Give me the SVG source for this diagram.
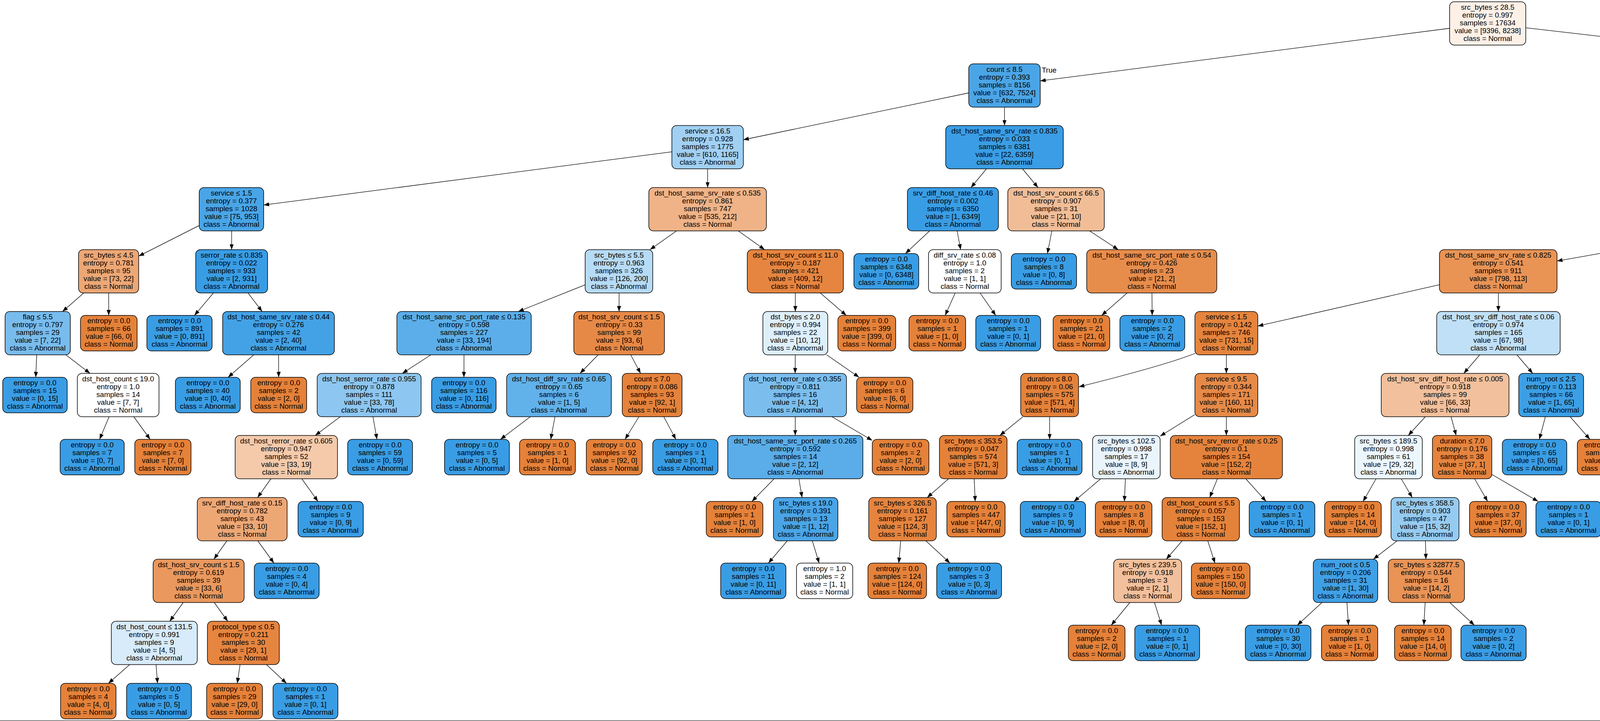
<svg xmlns="http://www.w3.org/2000/svg" width="6607" height="1847" viewBox="0 0 6607 1847">
<style>
text{font-family:"Liberation Sans",Arial,Helvetica,sans-serif;font-size:18.7px;text-anchor:middle;fill:#000}
.n rect{stroke:#000;stroke-width:1.5}
.e line,.e path{stroke:#000;stroke-width:1.3;fill:none;marker-end:url(#a)}
text.lbl{text-anchor:start}
text.lbr{text-anchor:end}
</style>
<defs>
<marker id="a" markerUnits="userSpaceOnUse" markerWidth="14" markerHeight="12" refX="14" refY="6" orient="auto"><path d="M0,0.8 L14,6 L0,11.2 z" fill="#000"/></marker>
</defs>
<rect x="0" y="0" width="6607" height="1847" fill="#fff"/>
<g id="frame" fill="none" stroke="#808080" stroke-width="2"><line x1="6606" y1="0" x2="6606" y2="1847"/><line x1="0" y1="1846" x2="6607" y2="1846"/></g>
<g id="edges" class="e">
<line x1="3711" y1="72.5" x2="2663" y2="207.2"/>
<line x1="3906" y1="71.2" x2="5098" y2="208.4"/>
<line x1="2480" y1="238" x2="1903" y2="358"/>
<line x1="2571.5" y1="274.5" x2="2571.5" y2="321.5"/>
<line x1="5190" y1="274.5" x2="5190" y2="321.5"/>
<line x1="5282" y1="235.7" x2="5975" y2="361.2"/>
<line x1="1720" y1="388.9" x2="675" y2="525.2"/>
<line x1="1811.5" y1="432.5" x2="1811.5" y2="480.5"/>
<line x1="2525.3" y1="432.5" x2="2485.7" y2="480.5"/>
<line x1="2617.7" y1="432.5" x2="2657.3" y2="480.5"/>
<line x1="5098" y1="409.6" x2="4833" y2="503.6"/>
<line x1="5282" y1="406.6" x2="5592" y2="506.1"/>
<line x1="6062" y1="432.5" x2="6062.3" y2="480.5"/>
<line x1="6147.6" y1="432.5" x2="6236.3" y2="490.5"/>
<line x1="510" y1="577.7" x2="355" y2="656.1"/>
<line x1="593" y1="591.5" x2="593" y2="639.5"/>
<line x1="1732" y1="591.5" x2="1664" y2="639.5"/>
<line x1="1890.1" y1="591.5" x2="1957.4" y2="639.5"/>
<line x1="2379.8" y1="591.5" x2="2317.9" y2="649.5"/>
<line x1="2450.2" y1="591.5" x2="2459.3" y2="639.5"/>
<line x1="2692.7" y1="591.5" x2="2681.4" y2="649.5"/>
<line x1="2789.3" y1="591.5" x2="2862.7" y2="639.5"/>
<line x1="4650" y1="552.1" x2="3986" y2="668.6"/>
<line x1="4741.2" y1="591.5" x2="4741.2" y2="639.5"/>
<line x1="5685" y1="591.5" x2="5685" y2="639.5"/>
<line x1="5751.3" y1="591.5" x2="5820.1" y2="649.5"/>
<line x1="6062.5" y1="591.5" x2="6062.5" y2="649.5"/>
<line x1="6147.4" y1="591.5" x2="6220.1" y2="639.5"/>
<line x1="214.5" y1="750.5" x2="160" y2="798"/>
<line x1="278.2" y1="750.5" x2="278.3" y2="808"/>
<line x1="546.3" y1="750.5" x2="497.8" y2="808"/>
<line x1="635" y1="750.5" x2="671" y2="798"/>
<line x1="1498" y1="729.6" x2="1326.8" y2="798"/>
<line x1="1584.8" y1="750.5" x2="1584.8" y2="798"/>
<line x1="2036" y1="750.5" x2="2036" y2="798"/>
<line x1="2100" y1="750.5" x2="2166.5" y2="808"/>
<line x1="2445.3" y1="750.5" x2="2419.7" y2="808"/>
<line x1="2508.9" y1="750.5" x2="2549.1" y2="808"/>
<line x1="2885.5" y1="750.5" x2="2820.2" y2="808"/>
<line x1="2949" y1="750.5" x2="2949.6" y2="808"/>
<line x1="3685" y1="729.3" x2="3220" y2="835.2"/>
<line x1="3835.8" y1="750.5" x2="3835.8" y2="798"/>
<line x1="4682.5" y1="750.5" x2="4632.5" y2="798"/>
<line x1="4790.9" y1="750.5" x2="4833.6" y2="798"/>
<line x1="5684.7" y1="750.5" x2="5684.8" y2="798"/>
<path d="M5766.7,745.7 Q5896,801.3 6042.7,835"/>
<line x1="6305" y1="750.5" x2="6305" y2="808"/>
<line x1="6368.5" y1="750.5" x2="6434.4" y2="808"/>
<line x1="94" y1="909" x2="91.5" y2="966.5"/>
<line x1="168.6" y1="909" x2="230.4" y2="956.5"/>
<line x1="649.6" y1="909" x2="583.9" y2="966.5"/>
<line x1="713.2" y1="909" x2="713.4" y2="966.5"/>
<line x1="1103" y1="909" x2="1030" y2="956.5"/>
<line x1="1187.8" y1="909" x2="1187.6" y2="966.5"/>
<line x1="1531.1" y1="909" x2="1484.9" y2="956.5"/>
<line x1="1614.6" y1="909" x2="1639.9" y2="956.5"/>
<line x1="2035.8" y1="909" x2="2035.6" y2="956.5"/>
<line x1="2116.2" y1="909" x2="2199.3" y2="966.5"/>
<path d="M3060,905 Q2983.3,935.7 2762,991"/>
<line x1="3139.5" y1="909" x2="3139.5" y2="956.5"/>
<line x1="3788.2" y1="909" x2="3747.3" y2="956.5"/>
<line x1="3883.3" y1="909" x2="3923.8" y2="956.5"/>
<line x1="4510.3" y1="909" x2="4444.2" y2="966.5"/>
<line x1="4574.2" y1="909" x2="4574.3" y2="956.5"/>
<line x1="4882" y1="909" x2="4880.5" y2="956.5"/>
<line x1="4963" y1="909" x2="5031" y2="956.5"/>
<line x1="5684.5" y1="909" x2="5684" y2="956.5"/>
<line x1="5764.1" y1="909" x2="5831.9" y2="956.5"/>
<line x1="6121" y1="909" x2="6121.8" y2="966.5"/>
<line x1="6197" y1="903.8" x2="6277.6" y2="956.5"/>
<line x1="279.3" y1="1067.5" x2="255" y2="1125.5"/>
<line x1="342.5" y1="1067.5" x2="384.3" y2="1125.5"/>
<line x1="871" y1="1067.5" x2="807" y2="1115.5"/>
<line x1="954.8" y1="1067.5" x2="965" y2="1125.5"/>
<line x1="1357.7" y1="1067.5" x2="1281.1" y2="1125.5"/>
<line x1="1420.7" y1="1067.5" x2="1409.9" y2="1125.5"/>
<line x1="1635.6" y1="1067.5" x2="1600.2" y2="1125.5"/>
<line x1="1699.2" y1="1067.5" x2="1730.2" y2="1125.5"/>
<line x1="2035.8" y1="1067.5" x2="2035.8" y2="1115.5"/>
<line x1="2129.7" y1="1067.5" x2="2233" y2="1128.3"/>
<line x1="2618.8" y1="1067.5" x2="2559.7" y2="1115.5"/>
<line x1="2687" y1="1067.5" x2="2687" y2="1125.5"/>
<line x1="3059" y1="1062" x2="2970" y2="1117.3"/>
<line x1="3139.5" y1="1067.5" x2="3139.5" y2="1115.5"/>
<line x1="3648.9" y1="1067.5" x2="3605.1" y2="1115.5"/>
<line x1="3714.7" y1="1067.5" x2="3727.8" y2="1115.5"/>
<line x1="3956.2" y1="1067.5" x2="3940.7" y2="1125.5"/>
<line x1="4019.5" y1="1067.5" x2="4070.2" y2="1125.5"/>
<line x1="4498" y1="1064.3" x2="4423.1" y2="1115.5"/>
<line x1="4574.3" y1="1067.5" x2="4574.2" y2="1125.5"/>
<line x1="4836.1" y1="1067.5" x2="4791.2" y2="1125.5"/>
<line x1="4899.1" y1="1067.5" x2="4920.1" y2="1125.5"/>
<line x1="5110.3" y1="1067.5" x2="5110.2" y2="1125.5"/>
<line x1="5189.9" y1="1067.5" x2="5258.6" y2="1115.5"/>
<line x1="5645.6" y1="1067.5" x2="5606" y2="1125.5"/>
<line x1="5709.2" y1="1067.5" x2="5736" y2="1125.5"/>
<line x1="5916.8" y1="1067.5" x2="5922.8" y2="1125.5"/>
<line x1="5980.1" y1="1067.5" x2="6052.4" y2="1125.5"/>
<line x1="6351.7" y1="1067.5" x2="6342.3" y2="1115.5"/>
<line x1="6420.1" y1="1067.5" x2="6480.3" y2="1125.5"/>
<line x1="693.6" y1="1226.5" x2="659.4" y2="1274.5"/>
<line x1="772.6" y1="1226.5" x2="814" y2="1284.5"/>
<line x1="1981.7" y1="1226.5" x2="1925" y2="1284.5"/>
<line x1="2045.2" y1="1226.5" x2="2053.3" y2="1274.5"/>
<line x1="2428.3" y1="1226.5" x2="2373.7" y2="1274.5"/>
<line x1="2493.9" y1="1226.5" x2="2496.5" y2="1284.5"/>
<line x1="2817.9" y1="1226.5" x2="2749.3" y2="1284.5"/>
<line x1="2881" y1="1226.5" x2="2878.5" y2="1284.5"/>
<line x1="3116.6" y1="1226.5" x2="3096.9" y2="1274.5"/>
<line x1="3189.2" y1="1226.5" x2="3241.2" y2="1284.5"/>
<line x1="3522.7" y1="1226.5" x2="3489.5" y2="1284.5"/>
<line x1="3587.1" y1="1226.5" x2="3615.4" y2="1274.5"/>
<line x1="3774.9" y1="1226.5" x2="3808.3" y2="1284.5"/>
<line x1="3819" y1="1215.3" x2="3937.6" y2="1284.5"/>
<line x1="4319.1" y1="1226.5" x2="4295.2" y2="1284.5"/>
<line x1="4382.1" y1="1226.5" x2="4424.1" y2="1284.5"/>
<line x1="5301.9" y1="1226.5" x2="5264.1" y2="1284.5"/>
<line x1="5374.5" y1="1226.5" x2="5406" y2="1274.5"/>
<line x1="6299.9" y1="1226.5" x2="6266.9" y2="1284.5"/>
<line x1="6363.1" y1="1226.5" x2="6396.1" y2="1284.5"/>
<line x1="580.9" y1="1385.5" x2="547.6" y2="1432.5"/>
<line x1="660" y1="1385.5" x2="701.2" y2="1442.5"/>
<line x1="2015.5" y1="1385.5" x2="1967.1" y2="1442.5"/>
<line x1="2079.5" y1="1385.5" x2="2097" y2="1442.5"/>
<line x1="2305.8" y1="1385.5" x2="2300.9" y2="1442.5"/>
<line x1="2370.3" y1="1385.5" x2="2431.9" y2="1442.5"/>
<line x1="3026.3" y1="1385.5" x2="2985.7" y2="1432.5"/>
<line x1="3091.9" y1="1385.5" x2="3110.3" y2="1442.5"/>
<line x1="3576.6" y1="1385.5" x2="3515.9" y2="1432.5"/>
<line x1="3649.2" y1="1385.5" x2="3650.3" y2="1432.5"/>
<line x1="5410.6" y1="1385.5" x2="5377.7" y2="1442.5"/>
<line x1="5474.3" y1="1385.5" x2="5506.9" y2="1442.5"/>
<line x1="468.9" y1="1543.5" x2="434.6" y2="1591.5"/>
<line x1="548.5" y1="1543.5" x2="583" y2="1591.5"/>
<line x1="2892.5" y1="1543.5" x2="2844.8" y2="1601.5"/>
<line x1="2955.5" y1="1543.5" x2="2973.7" y2="1601.5"/>
<line x1="3384.3" y1="1543.5" x2="3321.3" y2="1601.5"/>
<line x1="3448.2" y1="1543.5" x2="3452" y2="1601.5"/>
<line x1="3648.4" y1="1543.5" x2="3645.1" y2="1601.5"/>
<line x1="3711.5" y1="1543.5" x2="3774.3" y2="1601.5"/>
<line x1="332" y1="1702.5" x2="277.6" y2="1750.5"/>
<line x1="399.5" y1="1702.5" x2="403.3" y2="1750.5"/>
<line x1="614.6" y1="1702.5" x2="607.4" y2="1750.5"/>
<line x1="682.2" y1="1702.5" x2="733.4" y2="1750.5"/>
</g>
<g id="edge-labels">
<text class="lbl" x="2667" y="186">True</text>
<text class="lbr" x="5096" y="187">False</text>
</g>
<g id="n0" class="n"><rect x="3711" y="4.5" width="195" height="111" rx="12" fill="#fcf0e7"/><text x="3808.5" y="24.5">src_bytes ≤ 28.5<tspan x="3808.5" dy="20">entropy = 0.997</tspan><tspan x="3808.5" dy="20">samples = 17634</tspan><tspan x="3808.5" dy="20">value = [9396, 8238]</tspan><tspan x="3808.5" dy="20">class = Normal</tspan></text></g>
<g id="n1" class="n"><rect x="2480" y="163.5" width="183" height="111" rx="12" fill="#4aa5e7"/><text x="2571.5" y="183.5">count ≤ 8.5<tspan x="2571.5" dy="20">entropy = 0.393</tspan><tspan x="2571.5" dy="20">samples = 8156</tspan><tspan x="2571.5" dy="20">value = [632, 7524]</tspan><tspan x="2571.5" dy="20">class = Abnormal</tspan></text></g>
<g id="n2" class="n"><rect x="5098" y="163.5" width="184" height="111" rx="12" fill="#e78b49"/><text x="5190" y="183.5">protocol_type ≤ 1.5<tspan x="5190" dy="20">entropy = 0.386</tspan><tspan x="5190" dy="20">samples = 9478</tspan><tspan x="5190" dy="20">value = [8764, 714]</tspan><tspan x="5190" dy="20">class = Normal</tspan></text></g>
<g id="n3" class="n"><rect x="1720" y="321.5" width="183" height="111" rx="12" fill="#a1d0f3"/><text x="1811.5" y="341.5">service ≤ 16.5<tspan x="1811.5" dy="20">entropy = 0.928</tspan><tspan x="1811.5" dy="20">samples = 1775</tspan><tspan x="1811.5" dy="20">value = [610, 1165]</tspan><tspan x="1811.5" dy="20">class = Abnormal</tspan></text></g>
<g id="n4" class="n"><rect x="2421" y="321.5" width="301" height="111" rx="12" fill="#3a9de5"/><text x="2571.5" y="341.5">dst_host_same_srv_rate ≤ 0.835<tspan x="2571.5" dy="20">entropy = 0.033</tspan><tspan x="2571.5" dy="20">samples = 6381</tspan><tspan x="2571.5" dy="20">value = [22, 6359]</tspan><tspan x="2571.5" dy="20">class = Abnormal</tspan></text></g>
<g id="n5" class="n"><rect x="5098" y="321.5" width="184" height="111" rx="12" fill="#e68640"/><text x="5190" y="341.5">hot ≤ 0.5<tspan x="5190" dy="20">entropy = 0.219</tspan><tspan x="5190" dy="20">samples = 8883</tspan><tspan x="5190" dy="20">value = [8572, 311]</tspan><tspan x="5190" dy="20">class = Normal</tspan></text></g>
<g id="n6" class="n"><rect x="5975" y="321.5" width="174" height="111" rx="12" fill="#97ccf1"/><text x="6062" y="341.5">src_bytes ≤ 351.5<tspan x="6062" dy="20">entropy = 0.907</tspan><tspan x="6062" dy="20">samples = 595</tspan><tspan x="6062" dy="20">value = [192, 403]</tspan><tspan x="6062" dy="20">class = Abnormal</tspan></text></g>
<g id="n7" class="n"><rect x="510" y="480.5" width="165" height="111" rx="12" fill="#49a5e7"/><text x="592.5" y="500.5">service ≤ 1.5<tspan x="592.5" dy="20">entropy = 0.377</tspan><tspan x="592.5" dy="20">samples = 1028</tspan><tspan x="592.5" dy="20">value = [75, 953]</tspan><tspan x="592.5" dy="20">class = Abnormal</tspan></text></g>
<g id="n8" class="n"><rect x="1661" y="480.5" width="301" height="111" rx="12" fill="#efb387"/><text x="1811.5" y="500.5">dst_host_same_srv_rate ≤ 0.535<tspan x="1811.5" dy="20">entropy = 0.861</tspan><tspan x="1811.5" dy="20">samples = 747</tspan><tspan x="1811.5" dy="20">value = [535, 212]</tspan><tspan x="1811.5" dy="20">class = Normal</tspan></text></g>
<g id="n9" class="n"><rect x="2323" y="480.5" width="233" height="111" rx="12" fill="#399de5"/><text x="2439.5" y="500.5">srv_diff_host_rate ≤ 0.46<tspan x="2439.5" dy="20">entropy = 0.002</tspan><tspan x="2439.5" dy="20">samples = 6350</tspan><tspan x="2439.5" dy="20">value = [1, 6349]</tspan><tspan x="2439.5" dy="20">class = Abnormal</tspan></text></g>
<g id="n10" class="n"><rect x="2580" y="480.5" width="247" height="111" rx="12" fill="#f1bd97"/><text x="2703.5" y="500.5">dst_host_srv_count ≤ 66.5<tspan x="2703.5" dy="20">entropy = 0.907</tspan><tspan x="2703.5" dy="20">samples = 31</tspan><tspan x="2703.5" dy="20">value = [21, 10]</tspan><tspan x="2703.5" dy="20">class = Normal</tspan></text></g>
<g id="n11" class="n"><rect x="4650" y="480.5" width="183" height="111" rx="12" fill="#e5833c"/><text x="4741.5" y="500.5">dst_bytes ≤ 2.0<tspan x="4741.5" dy="20">entropy = 0.108</tspan><tspan x="4741.5" dy="20">samples = 8542</tspan><tspan x="4741.5" dy="20">value = [8420, 122]</tspan><tspan x="4741.5" dy="20">class = Normal</tspan></text></g>
<g id="n12" class="n"><rect x="5592" y="480.5" width="186" height="111" rx="12" fill="#d8ecfa"/><text x="5685" y="500.5">src_bytes ≤ 6052.0<tspan x="5685" dy="20">entropy = 0.991</tspan><tspan x="5685" dy="20">samples = 341</tspan><tspan x="5685" dy="20">value = [152, 189]</tspan><tspan x="5685" dy="20">class = Abnormal</tspan></text></g>
<g id="n13" class="n"><rect x="5928" y="480.5" width="269" height="111" rx="12" fill="#e5823a"/><text x="6062.5" y="500.5">dst_host_diff_srv_rate ≤ 0.33<tspan x="6062.5" dy="20">entropy = 0.047</tspan><tspan x="6062.5" dy="20">samples = 193</tspan><tspan x="6062.5" dy="20">value = [192, 1]</tspan><tspan x="6062.5" dy="20">class = Normal</tspan></text></g>
<g id="n14" class="n"><rect x="6223" y="490.5" width="167" height="91" rx="12" fill="#399de5"/><text x="6306.5" y="510.8">entropy = 0.0<tspan x="6306.5" dy="20">samples = 402</tspan><tspan x="6306.5" dy="20">value = [0, 402]</tspan><tspan x="6306.5" dy="20">class = Abnormal</tspan></text></g>
<g id="n15" class="n"><rect x="201" y="639.5" width="154" height="111" rx="12" fill="#eda775"/><text x="278" y="659.5">src_bytes ≤ 4.5<tspan x="278" dy="20">entropy = 0.781</tspan><tspan x="278" dy="20">samples = 95</tspan><tspan x="278" dy="20">value = [73, 22]</tspan><tspan x="278" dy="20">class = Normal</tspan></text></g>
<g id="n16" class="n"><rect x="501" y="639.5" width="184" height="111" rx="12" fill="#399de5"/><text x="593" y="659.5">serror_rate ≤ 0.835<tspan x="593" dy="20">entropy = 0.022</tspan><tspan x="593" dy="20">samples = 933</tspan><tspan x="593" dy="20">value = [2, 931]</tspan><tspan x="593" dy="20">class = Abnormal</tspan></text></g>
<g id="n17" class="n"><rect x="1498" y="639.5" width="173" height="111" rx="12" fill="#b6dbf5"/><text x="1584.5" y="659.5">src_bytes ≤ 5.5<tspan x="1584.5" dy="20">entropy = 0.963</tspan><tspan x="1584.5" dy="20">samples = 326</tspan><tspan x="1584.5" dy="20">value = [126, 200]</tspan><tspan x="1584.5" dy="20">class = Abnormal</tspan></text></g>
<g id="n18" class="n"><rect x="1913" y="639.5" width="246" height="111" rx="12" fill="#e6853f"/><text x="2036" y="659.5">dst_host_srv_count ≤ 11.0<tspan x="2036" dy="20">entropy = 0.187</tspan><tspan x="2036" dy="20">samples = 421</tspan><tspan x="2036" dy="20">value = [409, 12]</tspan><tspan x="2036" dy="20">class = Normal</tspan></text></g>
<g id="n19" class="n"><rect x="2186" y="649.5" width="166" height="91" rx="12" fill="#399de5"/><text x="2269" y="669.8">entropy = 0.0<tspan x="2269" dy="20">samples = 6348</tspan><tspan x="2269" dy="20">value = [0, 6348]</tspan><tspan x="2269" dy="20">class = Abnormal</tspan></text></g>
<g id="n20" class="n"><rect x="2377" y="639.5" width="186" height="111" rx="12" fill="#ffffff"/><text x="2470" y="659.5">diff_srv_rate ≤ 0.08<tspan x="2470" dy="20">entropy = 1.0</tspan><tspan x="2470" dy="20">samples = 2</tspan><tspan x="2470" dy="20">value = [1, 1]</tspan><tspan x="2470" dy="20">class = Normal</tspan></text></g>
<g id="n21" class="n"><rect x="2589" y="649.5" width="167" height="91" rx="12" fill="#399de5"/><text x="2672.5" y="669.8">entropy = 0.0<tspan x="2672.5" dy="20">samples = 8</tspan><tspan x="2672.5" dy="20">value = [0, 8]</tspan><tspan x="2672.5" dy="20">class = Abnormal</tspan></text></g>
<g id="n22" class="n"><rect x="2782" y="639.5" width="333" height="111" rx="12" fill="#e78d4c"/><text x="2948.5" y="659.5">dst_host_same_src_port_rate ≤ 0.54<tspan x="2948.5" dy="20">entropy = 0.426</tspan><tspan x="2948.5" dy="20">samples = 23</tspan><tspan x="2948.5" dy="20">value = [21, 2]</tspan><tspan x="2948.5" dy="20">class = Normal</tspan></text></g>
<g id="n23" class="n"><rect x="3685" y="639.5" width="301" height="111" rx="12" fill="#e99355"/><text x="3835.5" y="659.5">dst_host_same_srv_rate ≤ 0.825<tspan x="3835.5" dy="20">entropy = 0.541</tspan><tspan x="3835.5" dy="20">samples = 911</tspan><tspan x="3835.5" dy="20">value = [798, 113]</tspan><tspan x="3835.5" dy="20">class = Normal</tspan></text></g>
<g id="n24" class="n"><rect x="4610" y="639.5" width="262" height="111" rx="12" fill="#e58139"/><text x="4741" y="659.5">dst_host_rerror_rate ≤ 0.025<tspan x="4741" dy="20">entropy = 0.013</tspan><tspan x="4741" dy="20">samples = 7631</tspan><tspan x="4741" dy="20">value = [7622, 9]</tspan><tspan x="4741" dy="20">class = Normal</tspan></text></g>
<g id="n25" class="n"><rect x="5604" y="639.5" width="161" height="111" rx="12" fill="#eeab7b"/><text x="5684.5" y="659.5">duration ≤ 4.5<tspan x="5684.5" dy="20">entropy = 0.813</tspan><tspan x="5684.5" dy="20">samples = 203</tspan><tspan x="5684.5" dy="20">value = [152, 51]</tspan><tspan x="5684.5" dy="20">class = Normal</tspan></text></g>
<g id="n26" class="n"><rect x="5791" y="649.5" width="167" height="91" rx="12" fill="#399de5"/><text x="5874.5" y="669.8">entropy = 0.0<tspan x="5874.5" dy="20">samples = 138</tspan><tspan x="5874.5" dy="20">value = [0, 138]</tspan><tspan x="5874.5" dy="20">class = Abnormal</tspan></text></g>
<g id="n27" class="n"><rect x="5988" y="649.5" width="149" height="91" rx="12" fill="#e58139"/><text x="6062.5" y="669.8">entropy = 0.0<tspan x="6062.5" dy="20">samples = 190</tspan><tspan x="6062.5" dy="20">value = [190, 0]</tspan><tspan x="6062.5" dy="20">class = Normal</tspan></text></g>
<g id="n28" class="n"><rect x="6170" y="639.5" width="270" height="111" rx="12" fill="#f2c09c"/><text x="6305" y="659.5">dst_host_diff_srv_rate ≤ 0.72<tspan x="6305" dy="20">entropy = 0.918</tspan><tspan x="6305" dy="20">samples = 3</tspan><tspan x="6305" dy="20">value = [2, 1]</tspan><tspan x="6305" dy="20">class = Normal</tspan></text></g>
<g id="n29" class="n"><rect x="13" y="798" width="167" height="111" rx="12" fill="#78bced"/><text x="96.5" y="818">flag ≤ 5.5<tspan x="96.5" dy="20">entropy = 0.797</tspan><tspan x="96.5" dy="20">samples = 29</tspan><tspan x="96.5" dy="20">value = [7, 22]</tspan><tspan x="96.5" dy="20">class = Abnormal</tspan></text></g>
<g id="n30" class="n"><rect x="206" y="808" width="145" height="91" rx="12" fill="#e58139"/><text x="278.5" y="828.3">entropy = 0.0<tspan x="278.5" dy="20">samples = 66</tspan><tspan x="278.5" dy="20">value = [66, 0]</tspan><tspan x="278.5" dy="20">class = Normal</tspan></text></g>
<g id="n31" class="n"><rect x="376" y="808" width="167" height="91" rx="12" fill="#399de5"/><text x="459.5" y="828.3">entropy = 0.0<tspan x="459.5" dy="20">samples = 891</tspan><tspan x="459.5" dy="20">value = [0, 891]</tspan><tspan x="459.5" dy="20">class = Abnormal</tspan></text></g>
<g id="n32" class="n"><rect x="570" y="798" width="286" height="111" rx="12" fill="#43a2e6"/><text x="713" y="818">dst_host_same_srv_rate ≤ 0.44<tspan x="713" dy="20">entropy = 0.276</tspan><tspan x="713" dy="20">samples = 42</tspan><tspan x="713" dy="20">value = [2, 40]</tspan><tspan x="713" dy="20">class = Abnormal</tspan></text></g>
<g id="n33" class="n"><rect x="1016" y="798" width="344" height="111" rx="12" fill="#5baee9"/><text x="1188" y="818">dst_host_same_src_port_rate ≤ 0.135<tspan x="1188" dy="20">entropy = 0.598</tspan><tspan x="1188" dy="20">samples = 227</tspan><tspan x="1188" dy="20">value = [33, 194]</tspan><tspan x="1188" dy="20">class = Abnormal</tspan></text></g>
<g id="n34" class="n"><rect x="1469" y="798" width="232" height="111" rx="12" fill="#e78946"/><text x="1585" y="818">dst_host_srv_count ≤ 1.5<tspan x="1585" dy="20">entropy = 0.33</tspan><tspan x="1585" dy="20">samples = 99</tspan><tspan x="1585" dy="20">value = [93, 6]</tspan><tspan x="1585" dy="20">class = Normal</tspan></text></g>
<g id="n35" class="n"><rect x="1953" y="798" width="166" height="111" rx="12" fill="#deeffb"/><text x="2036" y="818">dst_bytes ≤ 2.0<tspan x="2036" dy="20">entropy = 0.994</tspan><tspan x="2036" dy="20">samples = 22</tspan><tspan x="2036" dy="20">value = [10, 12]</tspan><tspan x="2036" dy="20">class = Abnormal</tspan></text></g>
<g id="n36" class="n"><rect x="2145" y="808" width="148" height="91" rx="12" fill="#e58139"/><text x="2219" y="828.3">entropy = 0.0<tspan x="2219" dy="20">samples = 399</tspan><tspan x="2219" dy="20">value = [399, 0]</tspan><tspan x="2219" dy="20">class = Normal</tspan></text></g>
<g id="n37" class="n"><rect x="2327" y="808" width="145" height="91" rx="12" fill="#e58139"/><text x="2399.5" y="828.3">entropy = 0.0<tspan x="2399.5" dy="20">samples = 1</tspan><tspan x="2399.5" dy="20">value = [1, 0]</tspan><tspan x="2399.5" dy="20">class = Normal</tspan></text></g>
<g id="n38" class="n"><rect x="2498" y="808" width="166" height="91" rx="12" fill="#399de5"/><text x="2581" y="828.3">entropy = 0.0<tspan x="2581" dy="20">samples = 1</tspan><tspan x="2581" dy="20">value = [0, 1]</tspan><tspan x="2581" dy="20">class = Abnormal</tspan></text></g>
<g id="n39" class="n"><rect x="2696" y="808" width="145" height="91" rx="12" fill="#e58139"/><text x="2768.5" y="828.3">entropy = 0.0<tspan x="2768.5" dy="20">samples = 21</tspan><tspan x="2768.5" dy="20">value = [21, 0]</tspan><tspan x="2768.5" dy="20">class = Normal</tspan></text></g>
<g id="n40" class="n"><rect x="2867" y="808" width="166" height="91" rx="12" fill="#399de5"/><text x="2950" y="828.3">entropy = 0.0<tspan x="2950" dy="20">samples = 2</tspan><tspan x="2950" dy="20">value = [0, 2]</tspan><tspan x="2950" dy="20">class = Abnormal</tspan></text></g>
<g id="n41" class="n"><rect x="3059" y="798" width="161" height="111" rx="12" fill="#e6843d"/><text x="3139.5" y="818">service ≤ 1.5<tspan x="3139.5" dy="20">entropy = 0.142</tspan><tspan x="3139.5" dy="20">samples = 746</tspan><tspan x="3139.5" dy="20">value = [731, 15]</tspan><tspan x="3139.5" dy="20">class = Normal</tspan></text></g>
<g id="n42" class="n"><rect x="3678" y="798" width="316" height="111" rx="12" fill="#c0e0f7"/><text x="3836" y="818">dst_host_srv_diff_host_rate ≤ 0.06<tspan x="3836" dy="20">entropy = 0.974</tspan><tspan x="3836" dy="20">samples = 165</tspan><tspan x="3836" dy="20">value = [67, 98]</tspan><tspan x="3836" dy="20">class = Abnormal</tspan></text></g>
<g id="n43" class="n"><rect x="4433" y="798" width="282" height="111" rx="12" fill="#e58139"/><text x="4574" y="818">dst_host_srv_serror_rate ≤ 0.3<tspan x="4574" dy="20">entropy = 0.005</tspan><tspan x="4574" dy="20">samples = 7367</tspan><tspan x="4574" dy="20">value = [7364, 3]</tspan><tspan x="4574" dy="20">class = Normal</tspan></text></g>
<g id="n44" class="n"><rect x="4767" y="798" width="233" height="111" rx="12" fill="#e6843e"/><text x="4883.5" y="818">dst_host_srv_count ≤ 1.5<tspan x="4883.5" dy="20">entropy = 0.156</tspan><tspan x="4883.5" dy="20">samples = 264</tspan><tspan x="4883.5" dy="20">value = [258, 6]</tspan><tspan x="4883.5" dy="20">class = Normal</tspan></text></g>
<g id="n45" class="n"><rect x="5557" y="798" width="256" height="111" rx="12" fill="#dbedfa"/><text x="5685" y="818">dst_host_srv_count ≤ 152.0<tspan x="5685" dy="20">entropy = 0.993</tspan><tspan x="5685" dy="20">samples = 80</tspan><tspan x="5685" dy="20">value = [36, 44]</tspan><tspan x="5685" dy="20">class = Abnormal</tspan></text></g>
<g id="n46" class="n"><rect x="6043" y="798" width="154" height="111" rx="12" fill="#e78945"/><text x="6120" y="818">duration ≤ 97.5<tspan x="6120" dy="20">entropy = 0.315</tspan><tspan x="6120" dy="20">samples = 123</tspan><tspan x="6120" dy="20">value = [116, 7]</tspan><tspan x="6120" dy="20">class = Normal</tspan></text></g>
<g id="n47" class="n"><rect x="6222" y="808" width="166" height="91" rx="12" fill="#399de5"/><text x="6305" y="828.3">entropy = 0.0<tspan x="6305" dy="20">samples = 1</tspan><tspan x="6305" dy="20">value = [0, 1]</tspan><tspan x="6305" dy="20">class = Abnormal</tspan></text></g>
<g id="n48" class="n"><rect x="6415" y="808" width="143" height="91" rx="12" fill="#e58139"/><text x="6486.5" y="828.3">entropy = 0.0<tspan x="6486.5" dy="20">samples = 2</tspan><tspan x="6486.5" dy="20">value = [2, 0]</tspan><tspan x="6486.5" dy="20">class = Normal</tspan></text></g>
<g id="n49" class="n"><rect x="7" y="966.5" width="165" height="91" rx="12" fill="#399de5"/><text x="89.5" y="986.8">entropy = 0.0<tspan x="89.5" dy="20">samples = 15</tspan><tspan x="89.5" dy="20">value = [0, 15]</tspan><tspan x="89.5" dy="20">class = Abnormal</tspan></text></g>
<g id="n50" class="n"><rect x="198" y="956.5" width="209" height="111" rx="12" fill="#ffffff"/><text x="302.5" y="976.5">dst_host_count ≤ 19.0<tspan x="302.5" dy="20">entropy = 1.0</tspan><tspan x="302.5" dy="20">samples = 14</tspan><tspan x="302.5" dy="20">value = [7, 7]</tspan><tspan x="302.5" dy="20">class = Normal</tspan></text></g>
<g id="n51" class="n"><rect x="449" y="966.5" width="166" height="91" rx="12" fill="#399de5"/><text x="532" y="986.8">entropy = 0.0<tspan x="532" dy="20">samples = 40</tspan><tspan x="532" dy="20">value = [0, 40]</tspan><tspan x="532" dy="20">class = Abnormal</tspan></text></g>
<g id="n52" class="n"><rect x="642" y="966.5" width="143" height="91" rx="12" fill="#e58139"/><text x="713.5" y="986.8">entropy = 0.0<tspan x="713.5" dy="20">samples = 2</tspan><tspan x="713.5" dy="20">value = [2, 0]</tspan><tspan x="713.5" dy="20">class = Normal</tspan></text></g>
<g id="n53" class="n"><rect x="812" y="956.5" width="266" height="111" rx="12" fill="#8dc6f0"/><text x="945" y="976.5">dst_host_serror_rate ≤ 0.955<tspan x="945" dy="20">entropy = 0.878</tspan><tspan x="945" dy="20">samples = 111</tspan><tspan x="945" dy="20">value = [33, 78]</tspan><tspan x="945" dy="20">class = Abnormal</tspan></text></g>
<g id="n54" class="n"><rect x="1105" y="966.5" width="165" height="91" rx="12" fill="#399de5"/><text x="1187.5" y="986.8">entropy = 0.0<tspan x="1187.5" dy="20">samples = 116</tspan><tspan x="1187.5" dy="20">value = [0, 116]</tspan><tspan x="1187.5" dy="20">class = Abnormal</tspan></text></g>
<g id="n55" class="n"><rect x="1297" y="956.5" width="268" height="111" rx="12" fill="#61b1ea"/><text x="1431" y="976.5">dst_host_diff_srv_rate ≤ 0.65<tspan x="1431" dy="20">entropy = 0.65</tspan><tspan x="1431" dy="20">samples = 6</tspan><tspan x="1431" dy="20">value = [1, 5]</tspan><tspan x="1431" dy="20">class = Abnormal</tspan></text></g>
<g id="n56" class="n"><rect x="1593" y="956.5" width="153" height="111" rx="12" fill="#e5823b"/><text x="1669.5" y="976.5">count ≤ 7.0<tspan x="1669.5" dy="20">entropy = 0.086</tspan><tspan x="1669.5" dy="20">samples = 93</tspan><tspan x="1669.5" dy="20">value = [92, 1]</tspan><tspan x="1669.5" dy="20">class = Normal</tspan></text></g>
<g id="n57" class="n"><rect x="1904" y="956.5" width="263" height="111" rx="12" fill="#7bbeee"/><text x="2035.5" y="976.5">dst_host_rerror_rate ≤ 0.355<tspan x="2035.5" dy="20">entropy = 0.811</tspan><tspan x="2035.5" dy="20">samples = 16</tspan><tspan x="2035.5" dy="20">value = [4, 12]</tspan><tspan x="2035.5" dy="20">class = Abnormal</tspan></text></g>
<g id="n58" class="n"><rect x="2193" y="966.5" width="144" height="91" rx="12" fill="#e58139"/><text x="2265" y="986.8">entropy = 0.0<tspan x="2265" dy="20">samples = 6</tspan><tspan x="2265" dy="20">value = [6, 0]</tspan><tspan x="2265" dy="20">class = Normal</tspan></text></g>
<g id="n59" class="n"><rect x="2613" y="956.5" width="148" height="111" rx="12" fill="#e5823a"/><text x="2687" y="976.5">duration ≤ 8.0<tspan x="2687" dy="20">entropy = 0.06</tspan><tspan x="2687" dy="20">samples = 575</tspan><tspan x="2687" dy="20">value = [571, 4]</tspan><tspan x="2687" dy="20">class = Normal</tspan></text></g>
<g id="n60" class="n"><rect x="3059" y="956.5" width="161" height="111" rx="12" fill="#e78a47"/><text x="3139.5" y="976.5">service ≤ 9.5<tspan x="3139.5" dy="20">entropy = 0.344</tspan><tspan x="3139.5" dy="20">samples = 171</tspan><tspan x="3139.5" dy="20">value = [160, 11]</tspan><tspan x="3139.5" dy="20">class = Normal</tspan></text></g>
<g id="n61" class="n"><rect x="3536" y="956.5" width="327" height="111" rx="12" fill="#f2c09c"/><text x="3699.5" y="976.5">dst_host_srv_diff_host_rate ≤ 0.005<tspan x="3699.5" dy="20">entropy = 0.918</tspan><tspan x="3699.5" dy="20">samples = 99</tspan><tspan x="3699.5" dy="20">value = [66, 33]</tspan><tspan x="3699.5" dy="20">class = Normal</tspan></text></g>
<g id="n62" class="n"><rect x="3888" y="956.5" width="166" height="111" rx="12" fill="#3c9fe5"/><text x="3971" y="976.5">num_root ≤ 2.5<tspan x="3971" dy="20">entropy = 0.113</tspan><tspan x="3971" dy="20">samples = 66</tspan><tspan x="3971" dy="20">value = [1, 65]</tspan><tspan x="3971" dy="20">class = Abnormal</tspan></text></g>
<g id="n63" class="n"><rect x="4312" y="966.5" width="160" height="91" rx="12" fill="#e58139"/><text x="4392" y="986.8">entropy = 0.0<tspan x="4392" dy="20">samples = 7321</tspan><tspan x="4392" dy="20">value = [7321, 0]</tspan><tspan x="4392" dy="20">class = Normal</tspan></text></g>
<g id="n64" class="n"><rect x="4498" y="956.5" width="153" height="111" rx="12" fill="#e78a47"/><text x="4574.5" y="976.5">logged_in ≤ 0.5<tspan x="4574.5" dy="20">entropy = 0.348</tspan><tspan x="4574.5" dy="20">samples = 46</tspan><tspan x="4574.5" dy="20">value = [43, 3]</tspan><tspan x="4574.5" dy="20">class = Normal</tspan></text></g>
<g id="n65" class="n"><rect x="4801" y="956.5" width="156" height="111" rx="12" fill="#9ccef2"/><text x="4879" y="976.5">srv_count ≤ 1.5<tspan x="4879" dy="20">entropy = 0.918</tspan><tspan x="4879" dy="20">samples = 3</tspan><tspan x="4879" dy="20">value = [1, 2]</tspan><tspan x="4879" dy="20">class = Abnormal</tspan></text></g>
<g id="n66" class="n"><rect x="5018" y="956.5" width="185" height="111" rx="12" fill="#e5833c"/><text x="5110.5" y="976.5">src_bytes ≤ 1695.0<tspan x="5110.5" dy="20">entropy = 0.114</tspan><tspan x="5110.5" dy="20">samples = 261</tspan><tspan x="5110.5" dy="20">value = [257, 4]</tspan><tspan x="5110.5" dy="20">class = Normal</tspan></text></g>
<g id="n67" class="n"><rect x="5591" y="956.5" width="185" height="111" rx="12" fill="#42a2e6"/><text x="5683.5" y="976.5">dst_bytes ≤ 2522.0<tspan x="5683.5" dy="20">entropy = 0.262</tspan><tspan x="5683.5" dy="20">samples = 45</tspan><tspan x="5683.5" dy="20">value = [2, 43]</tspan><tspan x="5683.5" dy="20">class = Abnormal</tspan></text></g>
<g id="n68" class="n"><rect x="5800" y="956.5" width="222" height="111" rx="12" fill="#e6853f"/><text x="5911" y="976.5">num_access_files ≤ 0.5<tspan x="5911" dy="20">entropy = 0.187</tspan><tspan x="5911" dy="20">samples = 35</tspan><tspan x="5911" dy="20">value = [34, 1]</tspan><tspan x="5911" dy="20">class = Normal</tspan></text></g>
<g id="n69" class="n"><rect x="6048" y="966.5" width="149" height="91" rx="12" fill="#e58139"/><text x="6122.5" y="986.8">entropy = 0.0<tspan x="6122.5" dy="20">samples = 106</tspan><tspan x="6122.5" dy="20">value = [106, 0]</tspan><tspan x="6122.5" dy="20">class = Normal</tspan></text></g>
<g id="n70" class="n"><rect x="6223" y="956.5" width="279" height="111" rx="12" fill="#f7d9c4"/><text x="6362.5" y="976.5">dst_host_diff_srv_rate ≤ 0.035<tspan x="6362.5" dy="20">entropy = 0.977</tspan><tspan x="6362.5" dy="20">samples = 17</tspan><tspan x="6362.5" dy="20">value = [10, 7]</tspan><tspan x="6362.5" dy="20">class = Normal</tspan></text></g>
<g id="n71" class="n"><rect x="154" y="1125.5" width="164" height="91" rx="12" fill="#399de5"/><text x="236" y="1145.8">entropy = 0.0<tspan x="236" dy="20">samples = 7</tspan><tspan x="236" dy="20">value = [0, 7]</tspan><tspan x="236" dy="20">class = Abnormal</tspan></text></g>
<g id="n72" class="n"><rect x="345" y="1125.5" width="144" height="91" rx="12" fill="#e58139"/><text x="417" y="1145.8">entropy = 0.0<tspan x="417" dy="20">samples = 7</tspan><tspan x="417" dy="20">value = [7, 0]</tspan><tspan x="417" dy="20">class = Normal</tspan></text></g>
<g id="n73" class="n"><rect x="602" y="1115.5" width="262" height="111" rx="12" fill="#f4caab"/><text x="733" y="1135.5">dst_host_rerror_rate ≤ 0.605<tspan x="733" dy="20">entropy = 0.947</tspan><tspan x="733" dy="20">samples = 52</tspan><tspan x="733" dy="20">value = [33, 19]</tspan><tspan x="733" dy="20">class = Normal</tspan></text></g>
<g id="n74" class="n"><rect x="890" y="1125.5" width="166" height="91" rx="12" fill="#399de5"/><text x="973" y="1145.8">entropy = 0.0<tspan x="973" dy="20">samples = 59</tspan><tspan x="973" dy="20">value = [0, 59]</tspan><tspan x="973" dy="20">class = Abnormal</tspan></text></g>
<g id="n75" class="n"><rect x="1138" y="1125.5" width="166" height="91" rx="12" fill="#399de5"/><text x="1221" y="1145.8">entropy = 0.0<tspan x="1221" dy="20">samples = 5</tspan><tspan x="1221" dy="20">value = [0, 5]</tspan><tspan x="1221" dy="20">class = Abnormal</tspan></text></g>
<g id="n76" class="n"><rect x="1330" y="1125.5" width="143" height="91" rx="12" fill="#e58139"/><text x="1401.5" y="1145.8">entropy = 0.0<tspan x="1401.5" dy="20">samples = 1</tspan><tspan x="1401.5" dy="20">value = [1, 0]</tspan><tspan x="1401.5" dy="20">class = Normal</tspan></text></g>
<g id="n77" class="n"><rect x="1501" y="1125.5" width="143" height="91" rx="12" fill="#e58139"/><text x="1572.5" y="1145.8">entropy = 0.0<tspan x="1572.5" dy="20">samples = 92</tspan><tspan x="1572.5" dy="20">value = [92, 0]</tspan><tspan x="1572.5" dy="20">class = Normal</tspan></text></g>
<g id="n78" class="n"><rect x="1671" y="1125.5" width="167" height="91" rx="12" fill="#399de5"/><text x="1754.5" y="1145.8">entropy = 0.0<tspan x="1754.5" dy="20">samples = 1</tspan><tspan x="1754.5" dy="20">value = [0, 1]</tspan><tspan x="1754.5" dy="20">class = Abnormal</tspan></text></g>
<g id="n79" class="n"><rect x="1863" y="1115.5" width="346" height="111" rx="12" fill="#5aade9"/><text x="2036" y="1135.5">dst_host_same_src_port_rate ≤ 0.265<tspan x="2036" dy="20">entropy = 0.592</tspan><tspan x="2036" dy="20">samples = 14</tspan><tspan x="2036" dy="20">value = [2, 12]</tspan><tspan x="2036" dy="20">class = Abnormal</tspan></text></g>
<g id="n80" class="n"><rect x="2233" y="1125.5" width="145" height="91" rx="12" fill="#e58139"/><text x="2305.5" y="1145.8">entropy = 0.0<tspan x="2305.5" dy="20">samples = 2</tspan><tspan x="2305.5" dy="20">value = [2, 0]</tspan><tspan x="2305.5" dy="20">class = Normal</tspan></text></g>
<g id="n81" class="n"><rect x="2405" y="1115.5" width="173" height="111" rx="12" fill="#e5823a"/><text x="2491.5" y="1135.5">src_bytes ≤ 353.5<tspan x="2491.5" dy="20">entropy = 0.047</tspan><tspan x="2491.5" dy="20">samples = 574</tspan><tspan x="2491.5" dy="20">value = [571, 3]</tspan><tspan x="2491.5" dy="20">class = Normal</tspan></text></g>
<g id="n82" class="n"><rect x="2604" y="1125.5" width="166" height="91" rx="12" fill="#399de5"/><text x="2687" y="1145.8">entropy = 0.0<tspan x="2687" dy="20">samples = 1</tspan><tspan x="2687" dy="20">value = [0, 1]</tspan><tspan x="2687" dy="20">class = Abnormal</tspan></text></g>
<g id="n83" class="n"><rect x="2797" y="1115.5" width="173" height="111" rx="12" fill="#e9f4fc"/><text x="2883.5" y="1135.5">src_bytes ≤ 102.5<tspan x="2883.5" dy="20">entropy = 0.998</tspan><tspan x="2883.5" dy="20">samples = 17</tspan><tspan x="2883.5" dy="20">value = [8, 9]</tspan><tspan x="2883.5" dy="20">class = Abnormal</tspan></text></g>
<g id="n84" class="n"><rect x="2996" y="1115.5" width="287" height="111" rx="12" fill="#e5833c"/><text x="3139.5" y="1135.5">dst_host_srv_rerror_rate ≤ 0.25<tspan x="3139.5" dy="20">entropy = 0.1</tspan><tspan x="3139.5" dy="20">samples = 154</tspan><tspan x="3139.5" dy="20">value = [152, 2]</tspan><tspan x="3139.5" dy="20">class = Normal</tspan></text></g>
<g id="n85" class="n"><rect x="3468" y="1115.5" width="173" height="111" rx="12" fill="#ecf6fd"/><text x="3554.5" y="1135.5">src_bytes ≤ 189.5<tspan x="3554.5" dy="20">entropy = 0.998</tspan><tspan x="3554.5" dy="20">samples = 61</tspan><tspan x="3554.5" dy="20">value = [29, 32]</tspan><tspan x="3554.5" dy="20">class = Abnormal</tspan></text></g>
<g id="n86" class="n"><rect x="3667" y="1115.5" width="152" height="111" rx="12" fill="#e6843e"/><text x="3743" y="1135.5">duration ≤ 7.0<tspan x="3743" dy="20">entropy = 0.176</tspan><tspan x="3743" dy="20">samples = 38</tspan><tspan x="3743" dy="20">value = [37, 1]</tspan><tspan x="3743" dy="20">class = Normal</tspan></text></g>
<g id="n87" class="n"><rect x="3846" y="1125.5" width="165" height="91" rx="12" fill="#399de5"/><text x="3928.5" y="1145.8">entropy = 0.0<tspan x="3928.5" dy="20">samples = 65</tspan><tspan x="3928.5" dy="20">value = [0, 65]</tspan><tspan x="3928.5" dy="20">class = Abnormal</tspan></text></g>
<g id="n88" class="n"><rect x="4038" y="1125.5" width="144" height="91" rx="12" fill="#e58139"/><text x="4110" y="1145.8">entropy = 0.0<tspan x="4110" dy="20">samples = 1</tspan><tspan x="4110" dy="20">value = [1, 0]</tspan><tspan x="4110" dy="20">class = Normal</tspan></text></g>
<g id="n89" class="n"><rect x="4209" y="1115.5" width="266" height="111" rx="12" fill="#7bbeee"/><text x="4342" y="1135.5">dst_host_serror_rate ≤ 0.675<tspan x="4342" dy="20">entropy = 0.811</tspan><tspan x="4342" dy="20">samples = 4</tspan><tspan x="4342" dy="20">value = [1, 3]</tspan><tspan x="4342" dy="20">class = Abnormal</tspan></text></g>
<g id="n90" class="n"><rect x="4502" y="1125.5" width="144" height="91" rx="12" fill="#e58139"/><text x="4574" y="1145.8">entropy = 0.0<tspan x="4574" dy="20">samples = 42</tspan><tspan x="4574" dy="20">value = [42, 0]</tspan><tspan x="4574" dy="20">class = Normal</tspan></text></g>
<g id="n91" class="n"><rect x="4672" y="1125.5" width="168" height="91" rx="12" fill="#399de5"/><text x="4756" y="1145.8">entropy = 0.0<tspan x="4756" dy="20">samples = 2</tspan><tspan x="4756" dy="20">value = [0, 2]</tspan><tspan x="4756" dy="20">class = Abnormal</tspan></text></g>
<g id="n92" class="n"><rect x="4865" y="1125.5" width="143" height="91" rx="12" fill="#e58139"/><text x="4936.5" y="1145.8">entropy = 0.0<tspan x="4936.5" dy="20">samples = 1</tspan><tspan x="4936.5" dy="20">value = [1, 0]</tspan><tspan x="4936.5" dy="20">class = Normal</tspan></text></g>
<g id="n93" class="n"><rect x="5036" y="1125.5" width="148" height="91" rx="12" fill="#e58139"/><text x="5110" y="1145.8">entropy = 0.0<tspan x="5110" dy="20">samples = 230</tspan><tspan x="5110" dy="20">value = [230, 0]</tspan><tspan x="5110" dy="20">class = Normal</tspan></text></g>
<g id="n94" class="n"><rect x="5210" y="1115.5" width="256" height="111" rx="12" fill="#e99456"/><text x="5338" y="1135.5">dst_host_srv_count ≤ 123.5<tspan x="5338" dy="20">entropy = 0.555</tspan><tspan x="5338" dy="20">samples = 31</tspan><tspan x="5338" dy="20">value = [27, 4]</tspan><tspan x="5338" dy="20">class = Normal</tspan></text></g>
<g id="n95" class="n"><rect x="5492" y="1125.5" width="166" height="91" rx="12" fill="#399de5"/><text x="5575" y="1145.8">entropy = 0.0<tspan x="5575" dy="20">samples = 43</tspan><tspan x="5575" dy="20">value = [0, 43]</tspan><tspan x="5575" dy="20">class = Abnormal</tspan></text></g>
<g id="n96" class="n"><rect x="5685" y="1125.5" width="144" height="91" rx="12" fill="#e58139"/><text x="5757" y="1145.8">entropy = 0.0<tspan x="5757" dy="20">samples = 2</tspan><tspan x="5757" dy="20">value = [2, 0]</tspan><tspan x="5757" dy="20">class = Normal</tspan></text></g>
<g id="n97" class="n"><rect x="5855" y="1125.5" width="145" height="91" rx="12" fill="#e58139"/><text x="5927.5" y="1145.8">entropy = 0.0<tspan x="5927.5" dy="20">samples = 34</tspan><tspan x="5927.5" dy="20">value = [34, 0]</tspan><tspan x="5927.5" dy="20">class = Normal</tspan></text></g>
<g id="n98" class="n"><rect x="6026" y="1125.5" width="166" height="91" rx="12" fill="#399de5"/><text x="6109" y="1145.8">entropy = 0.0<tspan x="6109" dy="20">samples = 1</tspan><tspan x="6109" dy="20">value = [0, 1]</tspan><tspan x="6109" dy="20">class = Abnormal</tspan></text></g>
<g id="n99" class="n"><rect x="6235" y="1115.5" width="193" height="111" rx="12" fill="#55abe9"/><text x="6331.5" y="1135.5">dst_bytes ≤ 25291.5<tspan x="6331.5" dy="20">entropy = 0.544</tspan><tspan x="6331.5" dy="20">samples = 8</tspan><tspan x="6331.5" dy="20">value = [1, 7]</tspan><tspan x="6331.5" dy="20">class = Abnormal</tspan></text></g>
<g id="n100" class="n"><rect x="6455" y="1125.5" width="145" height="91" rx="12" fill="#e58139"/><text x="6527.5" y="1145.8">entropy = 0.0<tspan x="6527.5" dy="20">samples = 9</tspan><tspan x="6527.5" dy="20">value = [9, 0]</tspan><tspan x="6527.5" dy="20">class = Normal</tspan></text></g>
<g id="n101" class="n"><rect x="505" y="1274.5" width="230" height="111" rx="12" fill="#eda775"/><text x="620" y="1294.5">srv_diff_host_rate ≤ 0.15<tspan x="620" dy="20">entropy = 0.782</tspan><tspan x="620" dy="20">samples = 43</tspan><tspan x="620" dy="20">value = [33, 10]</tspan><tspan x="620" dy="20">class = Normal</tspan></text></g>
<g id="n102" class="n"><rect x="763" y="1284.5" width="167" height="91" rx="12" fill="#399de5"/><text x="846.5" y="1304.8">entropy = 0.0<tspan x="846.5" dy="20">samples = 9</tspan><tspan x="846.5" dy="20">value = [0, 9]</tspan><tspan x="846.5" dy="20">class = Abnormal</tspan></text></g>
<g id="n103" class="n"><rect x="1808" y="1284.5" width="145" height="91" rx="12" fill="#e58139"/><text x="1880.5" y="1304.8">entropy = 0.0<tspan x="1880.5" dy="20">samples = 1</tspan><tspan x="1880.5" dy="20">value = [1, 0]</tspan><tspan x="1880.5" dy="20">class = Normal</tspan></text></g>
<g id="n104" class="n"><rect x="1980" y="1274.5" width="165" height="111" rx="12" fill="#4aa5e7"/><text x="2062.5" y="1294.5">src_bytes ≤ 19.0<tspan x="2062.5" dy="20">entropy = 0.391</tspan><tspan x="2062.5" dy="20">samples = 13</tspan><tspan x="2062.5" dy="20">value = [1, 12]</tspan><tspan x="2062.5" dy="20">class = Abnormal</tspan></text></g>
<g id="n105" class="n"><rect x="2224" y="1274.5" width="173" height="111" rx="12" fill="#e6843e"/><text x="2310.5" y="1294.5">src_bytes ≤ 326.5<tspan x="2310.5" dy="20">entropy = 0.161</tspan><tspan x="2310.5" dy="20">samples = 127</tspan><tspan x="2310.5" dy="20">value = [124, 3]</tspan><tspan x="2310.5" dy="20">class = Normal</tspan></text></g>
<g id="n106" class="n"><rect x="2424" y="1284.5" width="149" height="91" rx="12" fill="#e58139"/><text x="2498.5" y="1304.8">entropy = 0.0<tspan x="2498.5" dy="20">samples = 447</tspan><tspan x="2498.5" dy="20">value = [447, 0]</tspan><tspan x="2498.5" dy="20">class = Normal</tspan></text></g>
<g id="n107" class="n"><rect x="2612" y="1284.5" width="167" height="91" rx="12" fill="#399de5"/><text x="2695.5" y="1304.8">entropy = 0.0<tspan x="2695.5" dy="20">samples = 9</tspan><tspan x="2695.5" dy="20">value = [0, 9]</tspan><tspan x="2695.5" dy="20">class = Abnormal</tspan></text></g>
<g id="n108" class="n"><rect x="2804" y="1284.5" width="145" height="91" rx="12" fill="#e58139"/><text x="2876.5" y="1304.8">entropy = 0.0<tspan x="2876.5" dy="20">samples = 8</tspan><tspan x="2876.5" dy="20">value = [8, 0]</tspan><tspan x="2876.5" dy="20">class = Normal</tspan></text></g>
<g id="n109" class="n"><rect x="2975" y="1274.5" width="198" height="111" rx="12" fill="#e5823a"/><text x="3074" y="1294.5">dst_host_count ≤ 5.5<tspan x="3074" dy="20">entropy = 0.057</tspan><tspan x="3074" dy="20">samples = 153</tspan><tspan x="3074" dy="20">value = [152, 1]</tspan><tspan x="3074" dy="20">class = Normal</tspan></text></g>
<g id="n110" class="n"><rect x="3198" y="1284.5" width="168" height="91" rx="12" fill="#399de5"/><text x="3282" y="1304.8">entropy = 0.0<tspan x="3282" dy="20">samples = 1</tspan><tspan x="3282" dy="20">value = [0, 1]</tspan><tspan x="3282" dy="20">class = Abnormal</tspan></text></g>
<g id="n111" class="n"><rect x="3391" y="1284.5" width="145" height="91" rx="12" fill="#e58139"/><text x="3463.5" y="1304.8">entropy = 0.0<tspan x="3463.5" dy="20">samples = 14</tspan><tspan x="3463.5" dy="20">value = [14, 0]</tspan><tspan x="3463.5" dy="20">class = Normal</tspan></text></g>
<g id="n112" class="n"><rect x="3561" y="1274.5" width="174" height="111" rx="12" fill="#96cbf1"/><text x="3648" y="1294.5">src_bytes ≤ 358.5<tspan x="3648" dy="20">entropy = 0.903</tspan><tspan x="3648" dy="20">samples = 47</tspan><tspan x="3648" dy="20">value = [15, 32]</tspan><tspan x="3648" dy="20">class = Abnormal</tspan></text></g>
<g id="n113" class="n"><rect x="3762" y="1284.5" width="145" height="91" rx="12" fill="#e58139"/><text x="3834.5" y="1304.8">entropy = 0.0<tspan x="3834.5" dy="20">samples = 37</tspan><tspan x="3834.5" dy="20">value = [37, 0]</tspan><tspan x="3834.5" dy="20">class = Normal</tspan></text></g>
<g id="n114" class="n"><rect x="3932" y="1284.5" width="167" height="91" rx="12" fill="#399de5"/><text x="4015.5" y="1304.8">entropy = 0.0<tspan x="4015.5" dy="20">samples = 1</tspan><tspan x="4015.5" dy="20">value = [0, 1]</tspan><tspan x="4015.5" dy="20">class = Abnormal</tspan></text></g>
<g id="n115" class="n"><rect x="4194" y="1284.5" width="165" height="91" rx="12" fill="#399de5"/><text x="4276.5" y="1304.8">entropy = 0.0<tspan x="4276.5" dy="20">samples = 3</tspan><tspan x="4276.5" dy="20">value = [0, 3]</tspan><tspan x="4276.5" dy="20">class = Abnormal</tspan></text></g>
<g id="n116" class="n"><rect x="4385" y="1284.5" width="144" height="91" rx="12" fill="#e58139"/><text x="4457" y="1304.8">entropy = 0.0<tspan x="4457" dy="20">samples = 1</tspan><tspan x="4457" dy="20">value = [1, 0]</tspan><tspan x="4457" dy="20">class = Normal</tspan></text></g>
<g id="n117" class="n"><rect x="5162" y="1284.5" width="145" height="91" rx="12" fill="#e58139"/><text x="5234.5" y="1304.8">entropy = 0.0<tspan x="5234.5" dy="20">samples = 25</tspan><tspan x="5234.5" dy="20">value = [25, 0]</tspan><tspan x="5234.5" dy="20">class = Normal</tspan></text></g>
<g id="n118" class="n"><rect x="5333" y="1274.5" width="219" height="111" rx="12" fill="#9ccef2"/><text x="5442.5" y="1294.5">dst_host_count ≤ 145.0<tspan x="5442.5" dy="20">entropy = 0.918</tspan><tspan x="5442.5" dy="20">samples = 6</tspan><tspan x="5442.5" dy="20">value = [2, 4]</tspan><tspan x="5442.5" dy="20">class = Abnormal</tspan></text></g>
<g id="n119" class="n"><rect x="6158" y="1284.5" width="166" height="91" rx="12" fill="#399de5"/><text x="6241" y="1304.8">entropy = 0.0<tspan x="6241" dy="20">samples = 7</tspan><tspan x="6241" dy="20">value = [0, 7]</tspan><tspan x="6241" dy="20">class = Abnormal</tspan></text></g>
<g id="n120" class="n"><rect x="6350" y="1284.5" width="144" height="91" rx="12" fill="#e58139"/><text x="6422" y="1304.8">entropy = 0.0<tspan x="6422" dy="20">samples = 1</tspan><tspan x="6422" dy="20">value = [1, 0]</tspan><tspan x="6422" dy="20">class = Normal</tspan></text></g>
<g id="n121" class="n"><rect x="392" y="1432.5" width="233" height="111" rx="12" fill="#ea985d"/><text x="508.5" y="1452.5">dst_host_srv_count ≤ 1.5<tspan x="508.5" dy="20">entropy = 0.619</tspan><tspan x="508.5" dy="20">samples = 39</tspan><tspan x="508.5" dy="20">value = [33, 6]</tspan><tspan x="508.5" dy="20">class = Normal</tspan></text></g>
<g id="n122" class="n"><rect x="651" y="1442.5" width="166" height="91" rx="12" fill="#399de5"/><text x="734" y="1462.8">entropy = 0.0<tspan x="734" dy="20">samples = 4</tspan><tspan x="734" dy="20">value = [0, 4]</tspan><tspan x="734" dy="20">class = Abnormal</tspan></text></g>
<g id="n123" class="n"><rect x="1845" y="1442.5" width="167" height="91" rx="12" fill="#399de5"/><text x="1928.5" y="1462.8">entropy = 0.0<tspan x="1928.5" dy="20">samples = 11</tspan><tspan x="1928.5" dy="20">value = [0, 11]</tspan><tspan x="1928.5" dy="20">class = Abnormal</tspan></text></g>
<g id="n124" class="n"><rect x="2039" y="1442.5" width="144" height="91" rx="12" fill="#ffffff"/><text x="2111" y="1462.8">entropy = 1.0<tspan x="2111" dy="20">samples = 2</tspan><tspan x="2111" dy="20">value = [1, 1]</tspan><tspan x="2111" dy="20">class = Normal</tspan></text></g>
<g id="n125" class="n"><rect x="2222" y="1442.5" width="150" height="91" rx="12" fill="#e58139"/><text x="2297" y="1462.8">entropy = 0.0<tspan x="2297" dy="20">samples = 124</tspan><tspan x="2297" dy="20">value = [124, 0]</tspan><tspan x="2297" dy="20">class = Normal</tspan></text></g>
<g id="n126" class="n"><rect x="2398" y="1442.5" width="166" height="91" rx="12" fill="#399de5"/><text x="2481" y="1462.8">entropy = 0.0<tspan x="2481" dy="20">samples = 3</tspan><tspan x="2481" dy="20">value = [0, 3]</tspan><tspan x="2481" dy="20">class = Abnormal</tspan></text></g>
<g id="n127" class="n"><rect x="2851" y="1432.5" width="174" height="111" rx="12" fill="#f2c09c"/><text x="2938" y="1452.5">src_bytes ≤ 239.5<tspan x="2938" dy="20">entropy = 0.918</tspan><tspan x="2938" dy="20">samples = 3</tspan><tspan x="2938" dy="20">value = [2, 1]</tspan><tspan x="2938" dy="20">class = Normal</tspan></text></g>
<g id="n128" class="n"><rect x="3050" y="1442.5" width="150" height="91" rx="12" fill="#e58139"/><text x="3125" y="1462.8">entropy = 0.0<tspan x="3125" dy="20">samples = 150</tspan><tspan x="3125" dy="20">value = [150, 0]</tspan><tspan x="3125" dy="20">class = Normal</tspan></text></g>
<g id="n129" class="n"><rect x="3362" y="1432.5" width="165" height="111" rx="12" fill="#40a0e6"/><text x="3444.5" y="1452.5">num_root ≤ 0.5<tspan x="3444.5" dy="20">entropy = 0.206</tspan><tspan x="3444.5" dy="20">samples = 31</tspan><tspan x="3444.5" dy="20">value = [1, 30]</tspan><tspan x="3444.5" dy="20">class = Abnormal</tspan></text></g>
<g id="n130" class="n"><rect x="3554" y="1432.5" width="195" height="111" rx="12" fill="#e99355"/><text x="3651.5" y="1452.5">src_bytes ≤ 32877.5<tspan x="3651.5" dy="20">entropy = 0.544</tspan><tspan x="3651.5" dy="20">samples = 16</tspan><tspan x="3651.5" dy="20">value = [14, 2]</tspan><tspan x="3651.5" dy="20">class = Normal</tspan></text></g>
<g id="n131" class="n"><rect x="5279" y="1442.5" width="145" height="91" rx="12" fill="#e58139"/><text x="5351.5" y="1462.8">entropy = 0.0<tspan x="5351.5" dy="20">samples = 2</tspan><tspan x="5351.5" dy="20">value = [2, 0]</tspan><tspan x="5351.5" dy="20">class = Normal</tspan></text></g>
<g id="n132" class="n"><rect x="5450" y="1442.5" width="166" height="91" rx="12" fill="#399de5"/><text x="5533" y="1462.8">entropy = 0.0<tspan x="5533" dy="20">samples = 4</tspan><tspan x="5533" dy="20">value = [0, 4]</tspan><tspan x="5533" dy="20">class = Abnormal</tspan></text></g>
<g id="n133" class="n"><rect x="285" y="1591.5" width="220" height="111" rx="12" fill="#d7ebfa"/><text x="395" y="1611.5">dst_host_count ≤ 131.5<tspan x="395" dy="20">entropy = 0.991</tspan><tspan x="395" dy="20">samples = 9</tspan><tspan x="395" dy="20">value = [4, 5]</tspan><tspan x="395" dy="20">class = Abnormal</tspan></text></g>
<g id="n134" class="n"><rect x="531" y="1591.5" width="184" height="111" rx="12" fill="#e68540"/><text x="623" y="1611.5">protocol_type ≤ 0.5<tspan x="623" dy="20">entropy = 0.211</tspan><tspan x="623" dy="20">samples = 30</tspan><tspan x="623" dy="20">value = [29, 1]</tspan><tspan x="623" dy="20">class = Normal</tspan></text></g>
<g id="n135" class="n"><rect x="2735" y="1601.5" width="145" height="91" rx="12" fill="#e58139"/><text x="2807.5" y="1621.8">entropy = 0.0<tspan x="2807.5" dy="20">samples = 2</tspan><tspan x="2807.5" dy="20">value = [2, 0]</tspan><tspan x="2807.5" dy="20">class = Normal</tspan></text></g>
<g id="n136" class="n"><rect x="2905" y="1601.5" width="166" height="91" rx="12" fill="#399de5"/><text x="2988" y="1621.8">entropy = 0.0<tspan x="2988" dy="20">samples = 1</tspan><tspan x="2988" dy="20">value = [0, 1]</tspan><tspan x="2988" dy="20">class = Abnormal</tspan></text></g>
<g id="n137" class="n"><rect x="3188" y="1601.5" width="168" height="91" rx="12" fill="#399de5"/><text x="3272" y="1621.8">entropy = 0.0<tspan x="3272" dy="20">samples = 30</tspan><tspan x="3272" dy="20">value = [0, 30]</tspan><tspan x="3272" dy="20">class = Abnormal</tspan></text></g>
<g id="n138" class="n"><rect x="3383" y="1601.5" width="144" height="91" rx="12" fill="#e58139"/><text x="3455" y="1621.8">entropy = 0.0<tspan x="3455" dy="20">samples = 1</tspan><tspan x="3455" dy="20">value = [1, 0]</tspan><tspan x="3455" dy="20">class = Normal</tspan></text></g>
<g id="n139" class="n"><rect x="3570" y="1601.5" width="145" height="91" rx="12" fill="#e58139"/><text x="3642.5" y="1621.8">entropy = 0.0<tspan x="3642.5" dy="20">samples = 14</tspan><tspan x="3642.5" dy="20">value = [14, 0]</tspan><tspan x="3642.5" dy="20">class = Normal</tspan></text></g>
<g id="n140" class="n"><rect x="3740" y="1601.5" width="167" height="91" rx="12" fill="#399de5"/><text x="3823.5" y="1621.8">entropy = 0.0<tspan x="3823.5" dy="20">samples = 2</tspan><tspan x="3823.5" dy="20">value = [0, 2]</tspan><tspan x="3823.5" dy="20">class = Abnormal</tspan></text></g>
<g id="n141" class="n"><rect x="155" y="1750.5" width="142" height="91" rx="12" fill="#e58139"/><text x="226" y="1770.8">entropy = 0.0<tspan x="226" dy="20">samples = 4</tspan><tspan x="226" dy="20">value = [4, 0]</tspan><tspan x="226" dy="20">class = Normal</tspan></text></g>
<g id="n142" class="n"><rect x="324" y="1750.5" width="166" height="91" rx="12" fill="#399de5"/><text x="407" y="1770.8">entropy = 0.0<tspan x="407" dy="20">samples = 5</tspan><tspan x="407" dy="20">value = [0, 5]</tspan><tspan x="407" dy="20">class = Abnormal</tspan></text></g>
<g id="n143" class="n"><rect x="529" y="1750.5" width="143" height="91" rx="12" fill="#e58139"/><text x="600.5" y="1770.8">entropy = 0.0<tspan x="600.5" dy="20">samples = 29</tspan><tspan x="600.5" dy="20">value = [29, 0]</tspan><tspan x="600.5" dy="20">class = Normal</tspan></text></g>
<g id="n144" class="n"><rect x="699" y="1750.5" width="166" height="91" rx="12" fill="#399de5"/><text x="782" y="1770.8">entropy = 0.0<tspan x="782" dy="20">samples = 1</tspan><tspan x="782" dy="20">value = [0, 1]</tspan><tspan x="782" dy="20">class = Abnormal</tspan></text></g>
</svg>
